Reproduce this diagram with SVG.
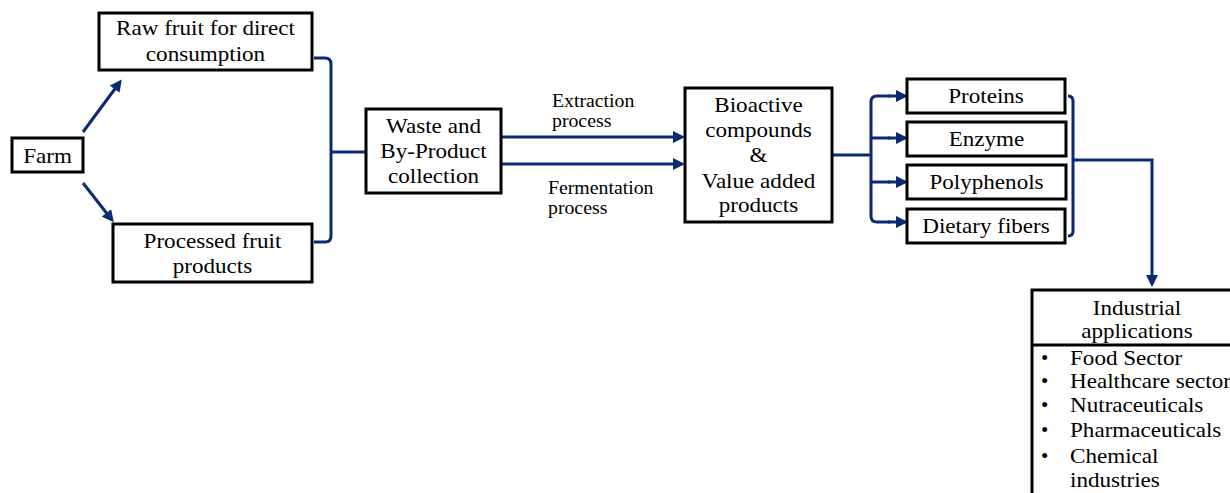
<svg xmlns="http://www.w3.org/2000/svg" width="1230" height="493" viewBox="0 0 1230 493">
<style>
.box{fill:#fff;stroke:#000;stroke-width:3}
text{font-family:'Liberation Serif','Times New Roman','DejaVu Serif',serif;fill:#000}
.t{font-size:21px;text-anchor:middle}
.tl{font-size:21px}
.lbl{font-size:18px}
.c{fill:none;stroke:#0a2a72;stroke-width:3}
</style>
<defs>
<marker id="ahb" markerWidth="12" markerHeight="12" refX="9" refY="6" orient="auto" markerUnits="userSpaceOnUse" viewBox="0 0 12 12">
<path d="M0,0 L12,6 L0,12 Z" fill="#0a2a72"/>
</marker>
</defs>
<rect width="1230" height="493" fill="#fff"/>
<g id="connectors">
<line class="c" x1="83" y1="132" x2="120" y2="82" marker-end="url(#ahb)"/>
<line class="c" x1="83" y1="183" x2="112" y2="220" marker-end="url(#ahb)"/>
<path class="c" d="M314,58 H325 Q331,58 331,64 V236 Q331,242 325,242 H314"/>
<line class="c" x1="331" y1="152" x2="366" y2="152"/>
<line class="c" x1="502" y1="137" x2="682" y2="137" marker-end="url(#ahb)"/>
<line class="c" x1="502" y1="164" x2="682" y2="164" marker-end="url(#ahb)"/>
<line class="c" x1="833" y1="155" x2="871" y2="155"/>
<path class="c" d="M890,96 H877 Q871,96 871,102 V216 Q871,222 877,222 H890"/>
<line class="c" x1="871" y1="138" x2="890" y2="138"/>
<line class="c" x1="871" y1="182" x2="890" y2="182"/>
<path class="c" d="M1068,96 Q1073,96 1073,101 V231 Q1073,236 1068,236"/>
<path class="c" d="M1073,160 H1152 V284" marker-end="url(#ahb)"/>
<line class="c" x1="888" y1="96" x2="905" y2="96" marker-end="url(#ahb)"/>
<line class="c" x1="888" y1="138" x2="905" y2="138" marker-end="url(#ahb)"/>
<line class="c" x1="888" y1="182" x2="905" y2="182" marker-end="url(#ahb)"/>
<line class="c" x1="888" y1="222" x2="905" y2="222" marker-end="url(#ahb)"/>
</g>
<g id="farm">
<rect class="box" x="12" y="138" width="71" height="34"/>
<g transform="translate(47.5,0) scale(1.1,1)"><text class="t" x="0" y="163">Farm</text></g>
</g>
<g id="raw">
<rect class="box" x="99" y="13" width="213" height="57"/>
<g transform="translate(205.5,0) scale(1.1,1)">
<text class="t" x="0" y="35">Raw fruit for direct</text>
<text class="t" x="0" y="61">consumption</text>
</g>
</g>
<g id="processed">
<rect class="box" x="113" y="224" width="199" height="58"/>
<g transform="translate(212.5,0) scale(1.1,1)">
<text class="t" x="0" y="248">Processed fruit</text>
<text class="t" x="0" y="273">products</text>
</g>
</g>
<g id="waste">
<rect class="box" x="366" y="109" width="135" height="84"/>
<g transform="translate(433.5,0) scale(1.1,1)">
<text class="t" x="0" y="133">Waste and</text>
<text class="t" x="0" y="158">By-Product</text>
<text class="t" x="0" y="183">collection</text>
</g>
</g>
<g id="labels">
<g transform="translate(552,0) scale(1.1,1)">
<text class="lbl" x="0" y="107">Extraction</text>
<text class="lbl" x="0" y="127">process</text>
</g>
<g transform="translate(548,0) scale(1.1,1)">
<text class="lbl" x="0" y="194">Fermentation</text>
<text class="lbl" x="0" y="214">process</text>
</g>
</g>
<g id="bioactive">
<rect class="box" x="685" y="88" width="147" height="134"/>
<g transform="translate(758.5,0) scale(1.1,1)">
<text class="t" x="0" y="112">Bioactive</text>
<text class="t" x="0" y="137">compounds</text>
<text class="t" x="0" y="162">&amp;</text>
<text class="t" x="0" y="188">Value added</text>
<text class="t" x="0" y="212">products</text>
</g>
</g>
<g id="proteins">
<rect class="box" x="907" y="79" width="158" height="34"/>
<g transform="translate(986,0) scale(1.1,1)"><text class="t" x="0" y="103">Proteins</text></g>
</g>
<g id="enzyme">
<rect class="box" x="907" y="122" width="159" height="34"/>
<g transform="translate(986.5,0) scale(1.1,1)"><text class="t" x="0" y="146">Enzyme</text></g>
</g>
<g id="polyphenols">
<rect class="box" x="907" y="165" width="159" height="34"/>
<g transform="translate(986.5,0) scale(1.1,1)"><text class="t" x="0" y="189">Polyphenols</text></g>
</g>
<g id="dietary">
<rect class="box" x="907" y="209" width="158" height="34"/>
<g transform="translate(986,0) scale(1.1,1)"><text class="t" x="0" y="233">Dietary fibers</text></g>
</g>
<g id="industrial">
<path d="M1232,290 H1032 V495 M1032,345 H1232" fill="none" stroke="#000" stroke-width="3"/>
<g transform="translate(1137,0) scale(1.1,1)">
<text class="t" x="0" y="315">Industrial</text>
<text class="t" x="0" y="338">applications</text>
</g>
<text class="tl" x="1041" y="365">•</text>
<text class="tl" x="1041" y="388">•</text>
<text class="tl" x="1041" y="412">•</text>
<text class="tl" x="1041" y="437">•</text>
<text class="tl" x="1041" y="463">•</text>
<g transform="translate(1070,0) scale(1.1,1)">
<text class="tl" x="0" y="365">Food Sector</text>
<text class="tl" x="0" y="388">Healthcare sector</text>
<text class="tl" x="0" y="412">Nutraceuticals</text>
<text class="tl" x="0" y="437">Pharmaceuticals</text>
<text class="tl" x="0" y="463">Chemical</text>
<text class="tl" x="0" y="487">industries</text>
</g>
</g>
</svg>
